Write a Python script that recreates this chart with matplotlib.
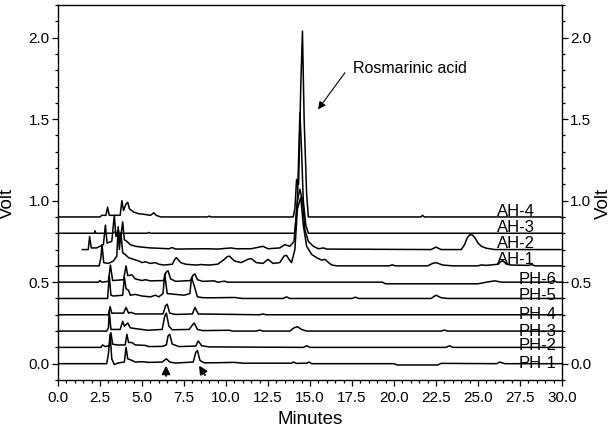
import numpy as np
import matplotlib
matplotlib.use('Agg')
import matplotlib.pyplot as plt
import matplotlib.ticker as ticker

plt.rcParams['font.family'] = ['Liberation Sans', 'DejaVu Sans']

# chromatogram traces: (minutes, volt above own baseline)
ph_1 = [(0, 0), (2.9, 0), (3.0, 0.06), (3.1, 0.18), (3.2, 0.03), (3.35, -0.005), (3.6, 0.005),
        (3.95, 0.01), (4.05, 0.10), (4.15, 0.03), (4.4, 0.02), (4.6, 0.01), (5.0, 0.012),
        (5.4, 0.008), (6.2, 0.01), (6.45, 0.03), (6.65, 0.01), (7.0, 0.004), (8.05, 0.01),
        (8.2, 0.07), (8.3, 0.08), (8.45, 0.02), (8.7, 0.005), (9.5, 0.006), (10.5, 0.008),
        (11.0, 0.003), (13.9, 0.003), (14.0, 0.01), (14.2, 0.002), (14.8, 0.003), (14.95, 0.01),
        (15.1, 0), (20.0, 0), (20.2, -0.008), (22.6, -0.008), (22.8, 0.002), (26.1, 0),
        (26.3, 0.01), (26.6, 0), (30, 0)]
ph_2 = [(0, 0), (2.55, 0), (2.65, 0.015), (2.8, 0.005), (3.05, 0.01), (3.15, 0.09), (3.25, 0.02),
        (3.5, 0.015), (4.0, 0.015), (4.1, 0.08), (4.2, 0.03), (4.4, 0.03), (4.6, 0.015),
        (5.2, 0.012), (5.4, 0.005), (6.2, 0.006), (6.45, 0.015), (6.55, 0.07), (6.65, 0.08),
        (6.8, 0.02), (7.2, 0.005), (8.2, 0.008), (8.35, 0.04), (8.55, 0.01), (9.0, 0.003),
        (14.6, 0), (14.8, 0.01), (15.0, 0), (23.1, 0), (23.3, 0.01), (23.5, 0), (30, 0)]
ph_3 = [(0, 0), (2.9, 0), (3.0, 0.02), (3.05, 0.12), (3.15, 0.01), (3.7, 0.01), (3.85, 0.06),
        (3.95, 0.03), (4.15, 0.05), (4.3, 0.02), (4.6, 0.015), (5.0, 0.01), (5.3, 0.005),
        (6.2, 0.01), (6.35, 0.09), (6.45, 0.11), (6.6, 0.03), (6.8, 0.008), (7.8, 0.01),
        (8.1, 0.05), (8.3, 0.01), (8.6, 0.003), (10.2, 0.005), (10.4, 0), (11.8, 0),
        (12.0, 0.006), (12.2, 0), (13.8, 0), (14.05, 0.02), (14.25, 0.027), (14.5, 0.01),
        (14.8, 0), (22.8, 0), (23.0, 0.006), (23.2, 0), (30, 0)]
ph_4 = [(0, 0), (3.0, 0), (3.1, 0.05), (3.2, 0.01), (3.9, 0.01), (4.05, 0.045), (4.2, 0.01),
        (4.35, 0.015), (4.6, 0.005), (6.25, 0.005), (6.4, 0.055), (6.5, 0.065), (6.65, 0.01),
        (7.0, 0.002), (8.0, 0.005), (8.15, 0.045), (8.35, 0.005), (12.0, 0), (12.2, 0.005),
        (12.4, 0), (30, 0)]
ph_5 = [(0, 0), (2.95, 0), (3.05, 0.14), (3.15, 0.02), (3.3, 0.015), (3.85, 0.02), (3.95, 0.13),
        (4.05, 0.06), (4.2, 0.05), (4.3, 0.02), (4.6, 0.025), (5.0, 0.015), (5.5, 0.01),
        (5.8, 0.02), (6.0, 0.01), (6.25, 0.03), (6.35, 0.15), (6.5, 0.03), (7.5, 0.02),
        (7.85, 0.03), (7.95, 0.13), (8.1, 0.08), (8.3, 0.01), (8.6, 0.005), (9.0, 0.004),
        (10.5, 0.006), (11.0, 0), (13.4, 0), (13.6, 0.01), (13.8, 0), (17.5, 0), (17.7, 0.008),
        (17.9, 0), (22.2, 0), (22.5, 0.02), (22.8, 0.005), (23.2, 0), (30, 0)]
ph_6 = [(0, 0), (2.4, 0), (2.5, 0.01), (2.6, 0), (3.0, 0.005), (3.12, 0.105), (3.25, 0.01),
        (3.9, 0.015), (4.05, 0.10), (4.15, 0.04), (4.4, 0.045), (4.6, 0.02), (5.0, 0.01),
        (5.2, 0.015), (5.5, 0.008), (6.3, 0.01), (6.42, 0.06), (6.55, 0.07), (6.7, 0.02),
        (7.0, 0.005), (7.9, 0.01), (8.05, 0.045), (8.15, 0.05), (8.3, 0.015), (8.6, 0.005),
        (9.3, 0.008), (9.5, 0), (9.9, 0.006), (10.1, 0), (19.3, 0), (19.5, -0.01), (25.0, -0.01),
        (25.5, 0), (26.0, 0.008), (26.4, 0), (29.3, 0), (29.5, 0.01), (29.7, 0), (30, 0)]
ah_1 = [(0, 0), (2.45, 0), (2.55, 0.05), (2.62, 0.13), (2.72, 0.02), (3.0, 0.015), (3.3, 0.03),
        (3.5, 0.06), (3.58, 0.24), (3.65, 0.1), (3.75, 0.2), (3.85, 0.08), (4.0, 0.07),
        (4.2, 0.05), (4.5, 0.04), (4.8, 0.03), (5.0, 0.02), (5.2, 0.025), (5.5, 0.015),
        (5.8, 0.02), (6.0, 0.01), (6.3, 0.005), (6.8, 0.01), (6.95, 0.04), (7.05, 0.05),
        (7.3, 0.02), (7.6, 0.01), (8.2, 0.005), (8.5, 0.008), (9.0, 0.005), (9.5, 0.01),
        (9.9, 0.04), (10.05, 0.055), (10.2, 0.06), (10.5, 0.03), (10.9, 0.02), (11.3, 0.04),
        (11.5, 0.045), (11.8, 0.02), (12.2, 0.015), (12.5, 0.04), (12.8, 0.015), (13.2, 0.02),
        (13.45, 0.06), (13.6, 0.065), (13.75, 0.04), (13.9, 0.02), (14.1, 0.1), (14.25, 0.35),
        (14.45, 0.42), (14.6, 0.25), (14.8, 0.12), (15.1, 0.07), (15.4, 0.05), (15.7, 0.035),
        (15.9, 0.04), (16.1, 0.02), (16.3, 0.005), (16.6, 0), (19.7, 0), (19.9, 0.006),
        (20.1, 0), (22.0, 0), (22.3, 0.015), (22.5, 0.02), (22.9, 0.005), (23.5, 0), (25.0, 0),
        (25.2, 0.006), (25.5, 0.003), (26.2, 0.01), (26.35, 0.027), (26.5, 0.03), (26.7, 0.01),
        (27.0, 0.005), (28.0, 0.003), (28.2, 0.008), (28.4, 0), (30, 0)]
ah_2 = [(1.45, 0), (1.8, 0), (1.88, 0.08), (1.98, 0.01), (2.3, 0.01), (2.5, 0.02), (2.7, 0.03),
        (2.82, 0.15), (2.92, 0.04), (3.2, 0.05), (3.35, 0.21), (3.45, 0.08), (3.6, 0.12),
        (3.7, 0.05), (3.85, 0.17), (3.95, 0.06), (4.1, 0.05), (4.3, 0.03), (4.6, 0.02),
        (5.0, 0.015), (5.5, 0.01), (6.0, 0.008), (6.6, 0.005), (6.8, 0.012), (7.0, 0.003),
        (8.8, 0.005), (9.5, 0.003), (10.3, 0.01), (10.6, 0.005), (11.5, 0.005), (12.2, 0.02),
        (12.5, 0.005), (13.2, 0.01), (13.5, 0.03), (13.8, 0.02), (14.05, 0.05), (14.25, 0.3),
        (14.4, 0.37), (14.55, 0.3), (14.7, 0.12), (14.9, 0.05), (15.2, 0.02), (15.5, 0.005),
        (15.8, 0.01), (16.0, 0.003), (22.2, 0), (22.5, 0.015), (22.8, 0), (24.0, 0),
        (24.2, 0.03), (24.35, 0.07), (24.5, 0.09), (24.65, 0.09), (24.8, 0.075), (25.0, 0.04),
        (25.2, 0.02), (25.5, 0.008), (26.0, 0), (30, 0)]
ah_3 = [(0, 0), (2.15, 0), (2.2, 0.015), (2.25, 0), (3.3, 0), (3.4, 0.01), (3.5, 0), (5.3, 0),
        (5.4, 0.005), (5.5, 0), (14.1, 0), (14.25, 0.2), (14.4, 0.74), (14.5, 0.5), (14.6, 0.2),
        (14.75, 0.05), (14.9, 0), (30, 0)]
ah_4 = [(0, 0), (2.5, 0), (2.6, 0.01), (2.85, 0.01), (2.95, 0.06), (3.05, 0.01), (3.7, 0.01),
        (3.8, 0.1), (3.9, 0.04), (4.05, 0.08), (4.15, 0.09), (4.25, 0.05), (4.5, 0.03),
        (4.8, 0.02), (5.2, 0.015), (5.5, 0.01), (5.7, 0.025), (5.85, 0.01), (6.1, 0), (8.9, 0),
        (9.0, 0.005), (9.1, 0), (14.0, 0), (14.1, 0.05), (14.2, 0.23), (14.32, 0.2),
        (14.45, 0.8), (14.55, 1.14), (14.65, 0.6), (14.8, 0.14), (14.9, 0), (21.6, 0),
        (21.7, 0.01), (21.8, 0), (29.9, 0), (30, -0.005)]

names = ['PH-1', 'PH-2', 'PH-3', 'PH-4', 'PH-5', 'PH-6', 'AH-1', 'AH-2', 'AH-3', 'AH-4']
traces = [ph_1, ph_2, ph_3, ph_4, ph_5, ph_6, ah_1, ah_2, ah_3, ah_4]
offsets = [0.0, 0.1, 0.2, 0.3, 0.4, 0.5, 0.6, 0.7, 0.8, 0.9]

# label placement (right edge in minutes, shift above baseline)
label_x = [29.7, 29.7, 29.7, 29.7, 29.7, 29.7, 28.4, 28.4, 28.4, 28.4]
label_dy = [0.0, 0.01, 0.0, 0.004, 0.018, 0.018, 0.037, 0.04, 0.035, 0.035]

fig = plt.figure(figsize=(6.12, 4.32), dpi=100)
ax = fig.add_axes([0.0948, 0.1204, 0.8235, 0.868])

for name, tr, off, lx, ldy in zip(names, traces, offsets, label_x, label_dy):
    t = np.array([p[0] for p in tr])
    v = np.array([p[1] for p in tr]) + off
    ax.plot(t, v, color='black', lw=1.1)
    ax.text(lx, off + ldy, name, ha='right', va='center', fontsize=12)

ax.set_xlim(0, 30)
ax.set_ylim(-0.1, 2.2)
ax.xaxis.set_major_locator(ticker.MultipleLocator(2.5))
ax.xaxis.set_minor_locator(ticker.MultipleLocator(0.5))
ax.yaxis.set_major_locator(ticker.MultipleLocator(0.5))
ax.yaxis.set_minor_locator(ticker.MultipleLocator(0.1))
ax.xaxis.set_major_formatter(ticker.StrMethodFormatter('{x:.1f}'))
ax.yaxis.set_major_formatter(ticker.StrMethodFormatter('{x:.1f}'))
ax.tick_params(which='both', direction='out', right=True, labelright=True, labelsize=11,
               width=0.9, pad=2)
ax.tick_params(axis='x', which='both', pad=4)
ax.tick_params(which='major', length=4)
ax.tick_params(which='minor', length=2.5)
for s in ax.spines.values():
    s.set_linewidth(1.0)

ax.set_xlabel('Minutes', fontsize=13.5, labelpad=4)
ax.set_ylabel('Volt', fontsize=13.5)
ax.yaxis.set_label_coords(-0.083, 0.47)
ax.text(1.083, 0.47, 'Volt', transform=ax.transAxes, rotation=90, ha='center', va='center',
        fontsize=13.5)

ax.text(17.56, 1.81, 'Rosmarinic acid', ha='left', va='center', fontsize=11.5)
ax.annotate('', xy=(15.48, 1.56), xytext=(17.08, 1.785),
            arrowprops=dict(arrowstyle='-|>', color='black', lw=0.8, mutation_scale=11,
                            shrinkA=0, shrinkB=0))
ax.annotate('', xy=(6.43, -0.012), xytext=(6.43, -0.075),
            arrowprops=dict(arrowstyle='-|>', color='black', lw=1.3, mutation_scale=12,
                            shrinkA=0, shrinkB=0))
ax.annotate('', xy=(8.39, -0.012), xytext=(8.75, -0.07),
            arrowprops=dict(arrowstyle='-|>', color='black', lw=1.3, mutation_scale=12,
                            shrinkA=0, shrinkB=0))

fig.savefig('out.png', dpi=100)
